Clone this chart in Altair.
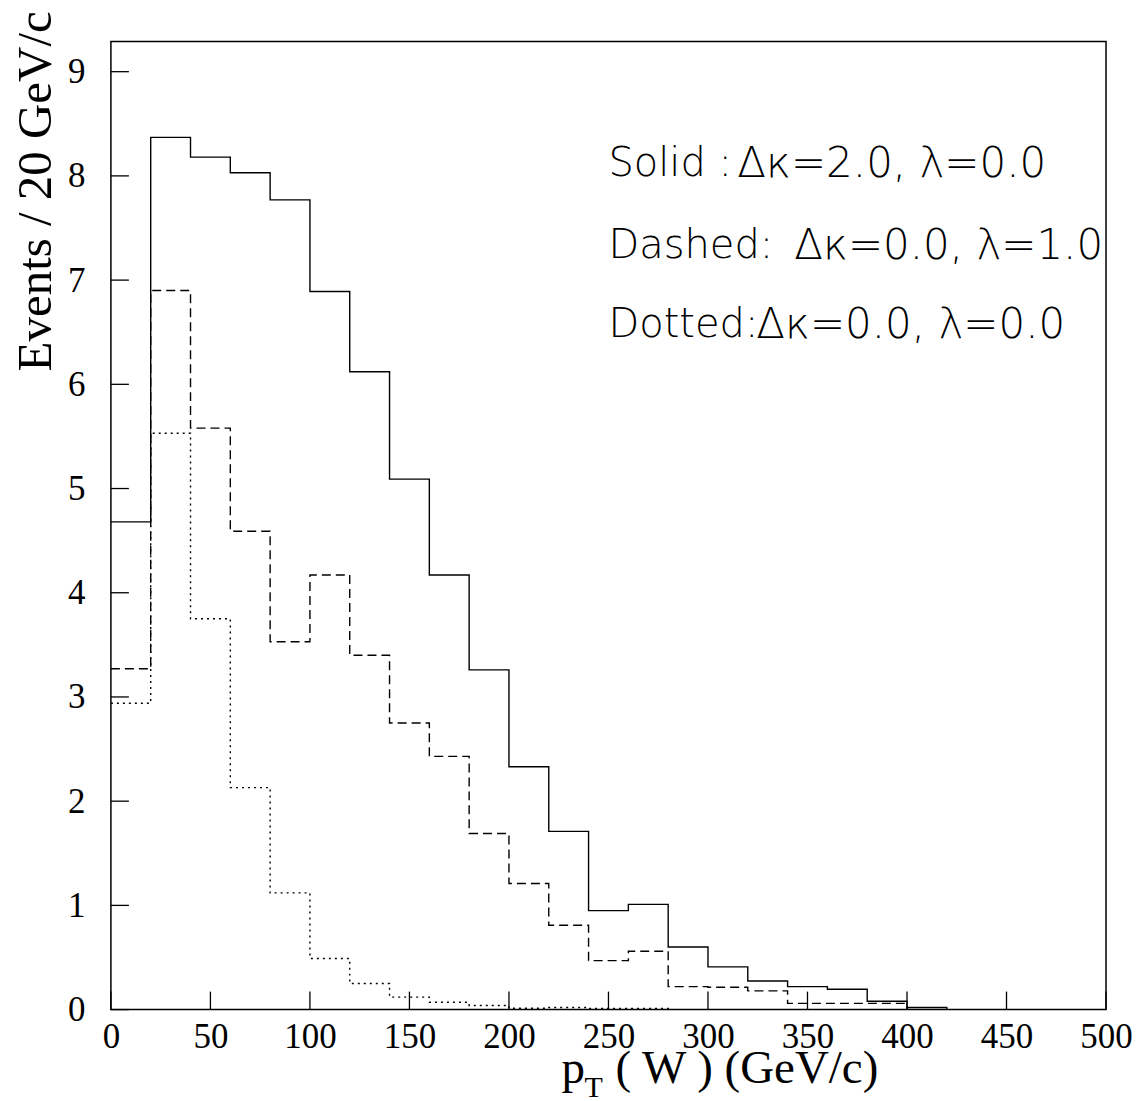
import altair as alt
import pandas as pd

# ---- data ----
bin_edges = list(range(0, 501, 20))  # 0..500, 26 edges, 25 bins

solid_vals = [4.68, 8.37, 8.18, 8.03, 7.77, 6.89, 6.12, 5.09, 4.17, 3.26,
              2.33, 1.71, 0.95, 1.01, 0.60, 0.41, 0.275, 0.22, 0.195, 0.08,
              0.02, 0.0, 0.0, 0.0, 0.0]
dashed_vals = [3.27, 6.90, 5.58, 4.59, 3.53, 4.17, 3.40, 2.75, 2.43, 1.69,
               1.21, 0.81, 0.47, 0.56, 0.22, 0.215, 0.18, 0.06, 0.06, 0.06,
               0.0, 0.0, 0.0, 0.0, 0.0]
dotted_vals = [2.94, 5.53, 3.75, 2.13, 1.12, 0.49, 0.25, 0.12, 0.07, 0.04,
               0.013, 0.02, 0.01, 0.01, 0.0, 0.0, 0.0, 0.0, 0.0, 0.0,
               0.0, 0.0, 0.0, 0.0, 0.0]

x_ticks = [0, 50, 100, 150, 200, 250, 300, 350, 400, 450, 500]
y_ticks = [0, 1, 2, 3, 4, 5, 6, 7, 8, 9]

legend_names = ["Solid :", "Dashed: ", "Dotted:"]
legend_formulas = ["\u0394\u03ba=2.0, \u03bb=0.0",
                   "\u0394\u03ba=0.0, \u03bb=1.0",
                   "\u0394\u03ba=0.0, \u03bb=0.0"]

X_MAX = 500
Y_MAX = 9.29
W, H = 996, 969


def step_frame(vals, name):
    xs = bin_edges[:]
    ys = vals + [vals[-1]]
    return pd.DataFrame({"x": xs, "y": ys, "series": name})


xscale = alt.Scale(domain=[0, X_MAX], nice=False, zero=False)
yscale = alt.Scale(domain=[0, Y_MAX], nice=False, zero=False)

x_axis = alt.Axis(values=x_ticks, title=None, grid=False, ticks=False, domain=False,
                  labelFont="Liberation Serif", labelFontSize=35, labelColor="black",
                  labelPadding=10, labelOverlap=False, labelFlush=False)
y_axis = alt.Axis(values=y_ticks, title=None, grid=False, ticks=False, domain=False,
                  labelFont="Liberation Serif", labelFontSize=35, labelColor="black",
                  labelPadding=26, labelOverlap=False, labelFlush=False)


def hist_layer(vals, name, dash):
    mark_kw = dict(interpolate="step-after", color="black", strokeWidth=1.4, clip=True)
    if dash:
        mark_kw["strokeDash"] = dash
    return alt.Chart(step_frame(vals, name)).mark_line(**mark_kw).encode(
        x=alt.X("x:Q", scale=xscale, axis=x_axis),
        y=alt.Y("y:Q", scale=yscale, axis=y_axis),
    )


solid = hist_layer(solid_vals, "solid", None)
dashed = hist_layer(dashed_vals, "dashed", [9, 5])
dotted = hist_layer(dotted_vals, "dotted", [2, 4])

# inward ticks (ROOT style)
xt = alt.Chart(pd.DataFrame({"x": x_ticks})).mark_rule(color="black", strokeWidth=1.3).encode(
    x=alt.X("x:Q", scale=xscale, axis=x_axis),
    y=alt.value(H), y2=alt.value(H - 18))
yt = alt.Chart(pd.DataFrame({"y": y_ticks})).mark_rule(color="black", strokeWidth=1.3).encode(
    y=alt.Y("y:Q", scale=yscale, axis=y_axis),
    x=alt.value(0), x2=alt.value(18))

# legend-like annotation text
leg_y = [123, 205, 284]
formula_x = [627, 684, 646]
legend_layers = []
for name, formula, yy, fx in zip(legend_names, legend_formulas, leg_y, formula_x):
    legend_layers.append(
        alt.Chart(pd.DataFrame({"t": [name]})).mark_text(
            align="left", baseline="middle", font="DejaVu Sans", fontWeight=200,
            fontSize=40, color="black").encode(
            text="t:N", x=alt.value(498), y=alt.value(yy)))
    legend_layers.append(
        alt.Chart(pd.DataFrame({"t": [formula]})).mark_text(
            align="left", baseline="middle", font="DejaVu Sans", fontWeight=200,
            fontSize=42, color="black").encode(
            text="t:N", x=alt.value(fx), y=alt.value(yy)))

# axis titles
xt_p = alt.Chart(pd.DataFrame({"t": ["p"]})).mark_text(
    align="left", baseline="alphabetic", font="Liberation Serif", fontSize=47, color="black"
).encode(text="t:N", x=alt.value(451), y=alt.value(1042))
xt_T = alt.Chart(pd.DataFrame({"t": ["T"]})).mark_text(
    align="left", baseline="alphabetic", font="Liberation Serif", fontSize=30, color="black"
).encode(text="t:N", x=alt.value(474), y=alt.value(1056))
xt_rest = alt.Chart(pd.DataFrame({"t": ["( W ) (GeV/c)"]})).mark_text(
    align="left", baseline="alphabetic", font="Liberation Serif", fontSize=47, color="black"
).encode(text="t:N", x=alt.value(505), y=alt.value(1042))
yt_title = alt.Chart(pd.DataFrame({"t": ["Events / 20 GeV/c"]})).mark_text(
    align="center", baseline="middle", font="Liberation Serif", fontSize=49, angle=270,
    color="black"
).encode(text="t:N", x=alt.value(-75), y=alt.value(150))

chart = alt.layer(
    solid, dashed, dotted, xt, yt, *legend_layers, xt_p, xt_T, xt_rest, yt_title
).properties(
    width=W, height=H,
    autosize=alt.AutoSizeParams(type="none"),
    padding={"left": 103, "top": 33, "right": 26, "bottom": 94},
    background="white",
).configure_view(
    stroke="black", strokeWidth=1.5
)

chart.save("out.html", embed_options={"renderer": "svg", "actions": False})
